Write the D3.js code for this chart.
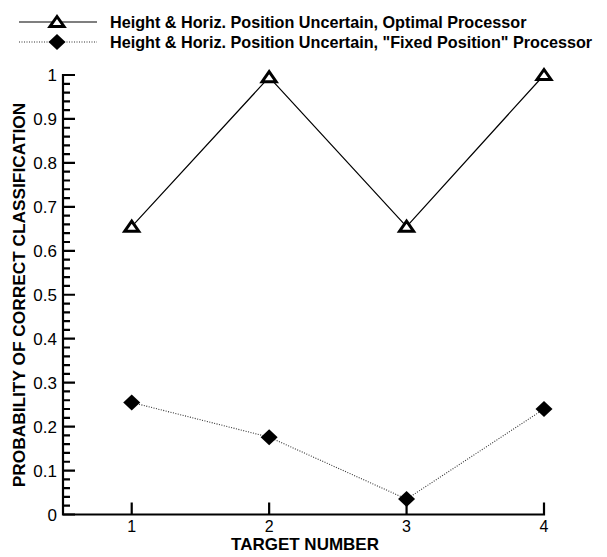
<!DOCTYPE html>
<html>
<head>
<meta charset="utf-8">
<script src="https://cdn.jsdelivr.net/npm/d3@7"></script>
<style>
  body { margin: 0; background: #fff; }
  svg { display: block; font-family: "Liberation Sans", Arial, sans-serif; }
</style>
</head>
<body>
<div id="chart"></div>
<script>
// Data
var targets = [1, 2, 3, 4];
var optimalValues = [0.655, 0.995, 0.655, 1.0];
var fixedValues = [0.255, 0.176, 0.035, 0.240];
var xTicks = [1, 2, 3, 4];
var yTicks = [0, 0.1, 0.2, 0.3, 0.4, 0.5, 0.6, 0.7, 0.8, 0.9, 1];
var yTickLabels = ["0", "0.1", "0.2", "0.3", "0.4", "0.5", "0.6", "0.7", "0.8", "0.9", "1"];
var seriesNames = [
  "Height & Horiz. Position Uncertain, Optimal Processor",
  "Height & Horiz. Position Uncertain, \"Fixed Position\" Processor"
];

(function () {
  var width = 607,
      height = 557,
      x = d3.scaleLinear().domain([0.5, 4]).range([63, 544]),
      y = d3.scaleLinear().domain([0, 1]).range([514.5, 75]),
      svg = d3.select("#chart").append("svg")
        .attr("width", width)
        .attr("height", height);

  // every 0.02 step on the y axis; majors every 0.1
  var ySteps = d3.range(0, 51).map(function (i) { return i / 50; });

  // y axis drawn as one comb path: up the axis, out and back at each tick
  var yAxisPts = [];
  ySteps.slice().reverse().forEach(function (v) {
    var len = (Math.round(v * 50) % 5 === 0) ? 12 : 7;
    yAxisPts.push([x(0.5), y(v)], [x(0.5) + len, y(v)], [x(0.5), y(v)]);
  });
  svg.append("path")
    .attr("d", d3.line()(yAxisPts))
    .attr("fill", "none")
    .attr("stroke", "#000")
    .attr("stroke-width", 2.2);

  // x axis comb path
  var xAxisPts = [[x(0.5), y(0)]];
  xTicks.forEach(function (v) {
    xAxisPts.push([x(v), y(0)], [x(v), y(0) - 12], [x(v), y(0)]);
  });
  svg.append("path")
    .attr("d", d3.line()(xAxisPts))
    .attr("fill", "none")
    .attr("stroke", "#000")
    .attr("stroke-width", 2.2);

  // tick labels
  svg.selectAll(".ylabel")
    .data(yTicks)
  .enter().append("text")
    .attr("x", x(0.5) - 6)
    .attr("y", function (d) { return y(d) + 6; })
    .attr("text-anchor", "end")
    .attr("font-size", 17)
    .text(function (d, i) { return yTickLabels[i]; });

  svg.selectAll(".xlabel")
    .data(xTicks)
  .enter().append("text")
    .attr("x", function (d) { return x(d); })
    .attr("y", y(0) + 17.5)
    .attr("text-anchor", "middle")
    .attr("font-size", 16)
    .text(function (d) { return d; });

  // axis titles
  svg.append("text")
    .attr("x", 305)
    .attr("y", 550)
    .attr("text-anchor", "middle")
    .attr("font-size", 17)
    .attr("font-weight", "bold")
    .text("TARGET NUMBER");

  svg.append("text")
    .attr("transform", "translate(25,295) rotate(-90)")
    .attr("text-anchor", "middle")
    .attr("font-size", 17.3)
    .attr("font-weight", "bold")
    .text("PROBABILITY OF CORRECT CLASSIFICATION");

  var line = d3.line()
    .x(function (d) { return x(d[0]); })
    .y(function (d) { return y(d[1]); });

  var optimal = targets.map(function (t, i) { return [t, optimalValues[i]]; }),
      fixed = targets.map(function (t, i) { return [t, fixedValues[i]]; });

  var triangle = "M0,-5.5L7,4.5L-7,4.5Z",
      diamond = "M0,-8L8.5,0L0,8L-8.5,0Z";

  // fixed position processor (dotted)
  svg.append("path")
    .datum(fixed)
    .attr("d", line)
    .attr("fill", "none")
    .attr("stroke", "#333")
    .attr("stroke-width", 1.1)
    .attr("stroke-dasharray", "1,1.5");

  svg.selectAll(".diamond")
    .data(fixed)
  .enter().append("path")
    .attr("class", "diamond")
    .attr("transform", function (d) { return "translate(" + x(d[0]) + "," + y(d[1]) + ")"; })
    .attr("d", diamond)
    .attr("fill", "#000");

  // optimal processor (solid)
  svg.append("path")
    .datum(optimal)
    .attr("d", line)
    .attr("fill", "none")
    .attr("stroke", "#000")
    .attr("stroke-width", 1.2);

  svg.selectAll(".tri")
    .data(optimal)
  .enter().append("path")
    .attr("class", "tri")
    .attr("transform", function (d) { return "translate(" + x(d[0]) + "," + y(d[1]) + ")"; })
    .attr("d", triangle)
    .attr("fill", "#fff")
    .attr("stroke", "#000")
    .attr("stroke-width", 3);

  // legend
  var legend = svg.append("g");
  var rows = [
    { y: 22, dash: null, color: "#000", marker: "tri" },
    { y: 42, dash: "1,1.5", color: "#333", marker: "diamond" }
  ];
  rows.forEach(function (r, i) {
    legend.append("path")
      .attr("d", "M19," + r.y + "H97")
      .attr("stroke", r.color)
      .attr("stroke-width", 1.2)
      .attr("stroke-dasharray", r.dash);
    legend.append("path")
      .attr("transform", "translate(57," + r.y + ")")
      .attr("d", r.marker === "tri" ? triangle : diamond)
      .attr("fill", r.marker === "tri" ? "#fff" : "#000")
      .attr("stroke", r.marker === "tri" ? "#000" : null)
      .attr("stroke-width", 3);
    legend.append("text")
      .attr("x", 110)
      .attr("y", r.y + 5.5)
      .attr("font-size", 16.2)
      .attr("font-weight", "bold")
      .text(seriesNames[i]);
  });
})();
</script>
</body>
</html>
